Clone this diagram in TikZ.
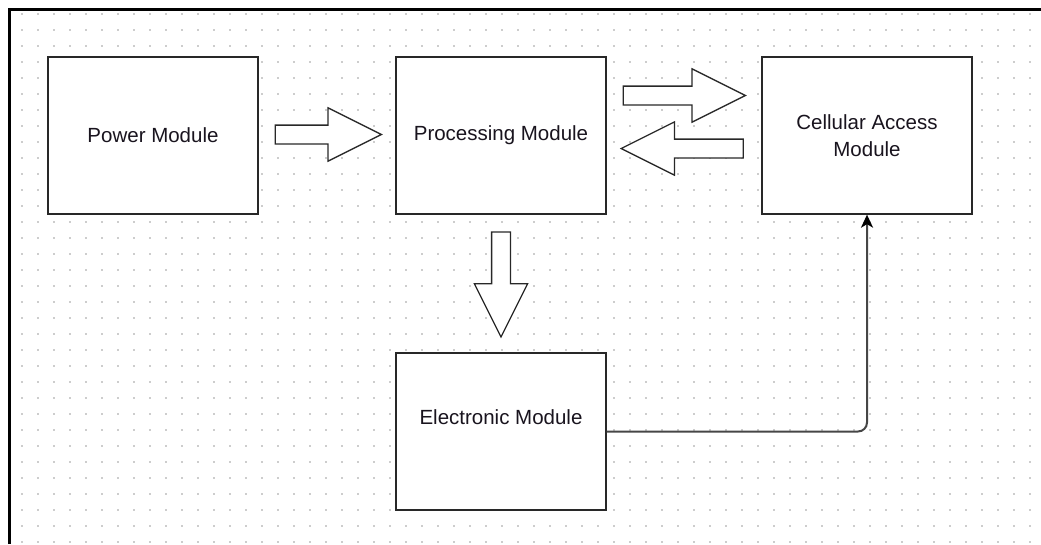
\documentclass[tikz,border=0pt]{standalone}
\usepackage{fontspec}
\setmainfont{Liberation Sans}
\usepackage{tikz}
\usetikzlibrary{arrows.meta,positioning,calc,shapes.arrows}
\usepackage{xcolor}
\definecolor{edgecol}{RGB}{40,40,40}
\definecolor{linkcol}{RGB}{70,70,70}
\definecolor{dotcol}{RGB}{205,205,205}
\definecolor{txtcol}{RGB}{25,20,30}
\tikzset{
  module/.style={draw=edgecol, fill=white, line width=1.3pt, minimum width=210pt, minimum height=157pt, align=center, text=txtcol, font=\fontsize{20.5}{27}\selectfont},
  fat/.style={single arrow, draw=edgecol, fill=white, line width=1.3pt, inner xsep=0pt, inner ysep=8.75pt, minimum width=52pt, single arrow head extend=17.25pt, single arrow tip angle=53.13, anchor=tail},
  link/.style={-{Stealth[length=13pt,width=12pt,inset=3.5pt,color=black]}, draw=linkcol, line width=2pt, rounded corners=9pt},
  frame/.style={line width=2.6pt, black},
}

\begin{document}
\begin{tikzpicture}[x=1pt,y=-1pt]
  \useasboundingbox (0,0) rectangle (1041,544);
  % dotted page grid
  \foreach \i in {0,...,63}
    \foreach \j in {0,...,33}
      \fill[dotcol] (22-0.75+16*\i, 15.3-0.75+16*\j) rectangle ++(1.5,-1.5);
  \draw[frame] (9.5,544) -- (9.5,9.5) -- (1041,9.5);
  % modules
  \node[module] (power) at (153,135.5) {Power Module};
  \node[module] (proc) at (501,135.5) {Processing Module};
  \node[module] (cell) at (867,135.5) {Cellular Access\\Module};
  \node[module, label={[text=txtcol, font=\fontsize{20.5}{27}\selectfont, yshift=14pt]center:Electronic Module}] (elec) at (501,431.5) {};
  % block arrows
  \node[fat, minimum height=106pt] (powtoproc) at ($(power.east)+(16,-1)$) {};
  \node[fat, minimum height=122pt] (proctocell) at ($(proc.east)+(16,-40)$) {};
  \node[fat, minimum height=122pt, rotate=180] (celltoproc) at ($(cell.west)+(-17.5,13)$) {};
  \node[fat, minimum height=105pt, rotate=-90] (proctoelec) at ($(proc.south)+(0,16.7)$) {};
  % link
  \draw[link] (elec.east) -| (cell.south);
\end{tikzpicture}
\end{document}
